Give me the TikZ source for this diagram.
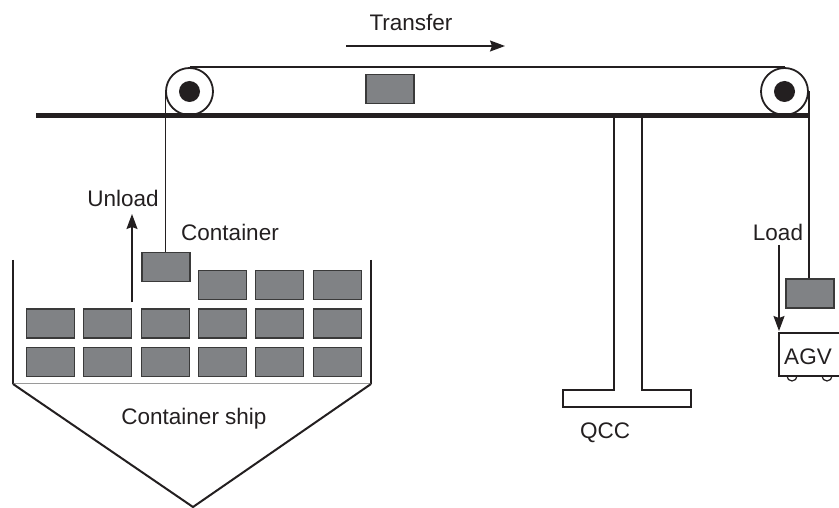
\documentclass[tikz,border=0pt]{standalone}
\usepackage{fontspec}
\setmainfont{Liberation Sans}
\usetikzlibrary{arrows.meta}
\definecolor{ink}{HTML}{231F20}
\definecolor{boxfill}{HTML}{808285}
\definecolor{boxedge}{HTML}{3A3A3A}
\definecolor{deckline}{HTML}{9A9A9A}
\begin{document}
\begin{tikzpicture}[x=1pt,y=-1pt,
  box/.style={draw=boxedge, fill=boxfill, line width=1.2pt, minimum width=48pt, minimum height=29pt, inner sep=0pt},
  lbl/.style={text=ink, font=\fontsize{22.5}{27}\selectfont, inner sep=0pt},
  thinline/.style={draw=ink, line width=1.2pt},
  pulley/.style={circle, draw=ink, line width=1.8pt, minimum size=47pt, inner sep=0pt},
  arrowline/.style={draw=ink, line width=1.5pt, -{Stealth[length=15pt,width=11pt,inset=2pt]}}]
\useasboundingbox (0,0) rectangle (839,508);
\clip (0,0) rectangle (839,508);

% crane beam
\draw[ink, line width=5pt] (36,116) -- (808,116);

% pulleys with belt
\node[pulley] (pl) at (189.5,91.5) {};
\node[pulley] (pr) at (784.5,91.5) {};
\fill[ink] (pl) circle (10.5);
\fill[ink] (pr) circle (10.5);
\draw[thinline] (pl.north) -- (pr.north);

% container on the belt
\node[box] (belt) at (390,89) {};
\coordinate (tA) at (346,46);
\coordinate (tB) at (505,46);
\draw[arrowline] (tA) -- (tB);
\node[lbl] (transfer) at (411,22) {Transfer};

% quay crane leg and base
\draw[thinline] (614,118) -- (614,390) -- (563,390) -- (563,407) -- (691,407) -- (691,390) -- (642,390) -- (642,118);
\node[lbl] (qcc) at (605,433) {QCC};

% ship hull
\draw[ink, line width=2.5pt] (13,260) -- (13,384);
\draw[ink, line width=2.5pt] (371,260) -- (371,384);
\draw[deckline, line width=1pt] (13,383) -- (371,383);
\draw[ink, line width=2pt] (13,384) -- (193,507) -- (371,384);
\node[lbl] (ship) at (194,419) {Container ship};

% stowed containers
\foreach \i/\x in {1/50.5,2/107.5,3/165.5,4/222.5,5/279.5,6/337.5}{
  \node[box] (b\i) at (\x,362) {};
  \node[box] (m\i) at (\x,323.5) {};
}
\foreach \i/\x in {4/222.5,5/279.5,6/337.5}{
  \node[box] (t\i) at (\x,285) {};
}

% container being unloaded
\node[box] (hang) at (166,267) {};
\draw[thinline] (pl.west) -- (pl.west |- hang.north);
\coordinate (uA) at (132,302);
\coordinate (uB) at (132,214);
\draw[arrowline] (uA) -- (uB);
\node[lbl] (unload) at (123,198) {Unload};
\node[lbl] (container) at (230,232) {Container};

% container being loaded onto the AGV
\node[box] (load) at (810,293.5) {};
\draw[thinline] (pr.east) -- (pr.east |- load.north);
\coordinate (lA) at (779,245);
\coordinate (lB) at (779,331);
\draw[arrowline] (lA) -- (lB);
\node[lbl] (loadlbl) at (778,232) {Load};

% AGV
\draw[thinline] (850,333) -- (779,333) -- (779,376) -- (850,376);
\draw[thinline] (787,376) arc (180:0:5);
\draw[thinline] (822,376) arc (180:0:5);
\node[lbl] (agv) at (808,357) {AGV};
\end{tikzpicture}
\end{document}
